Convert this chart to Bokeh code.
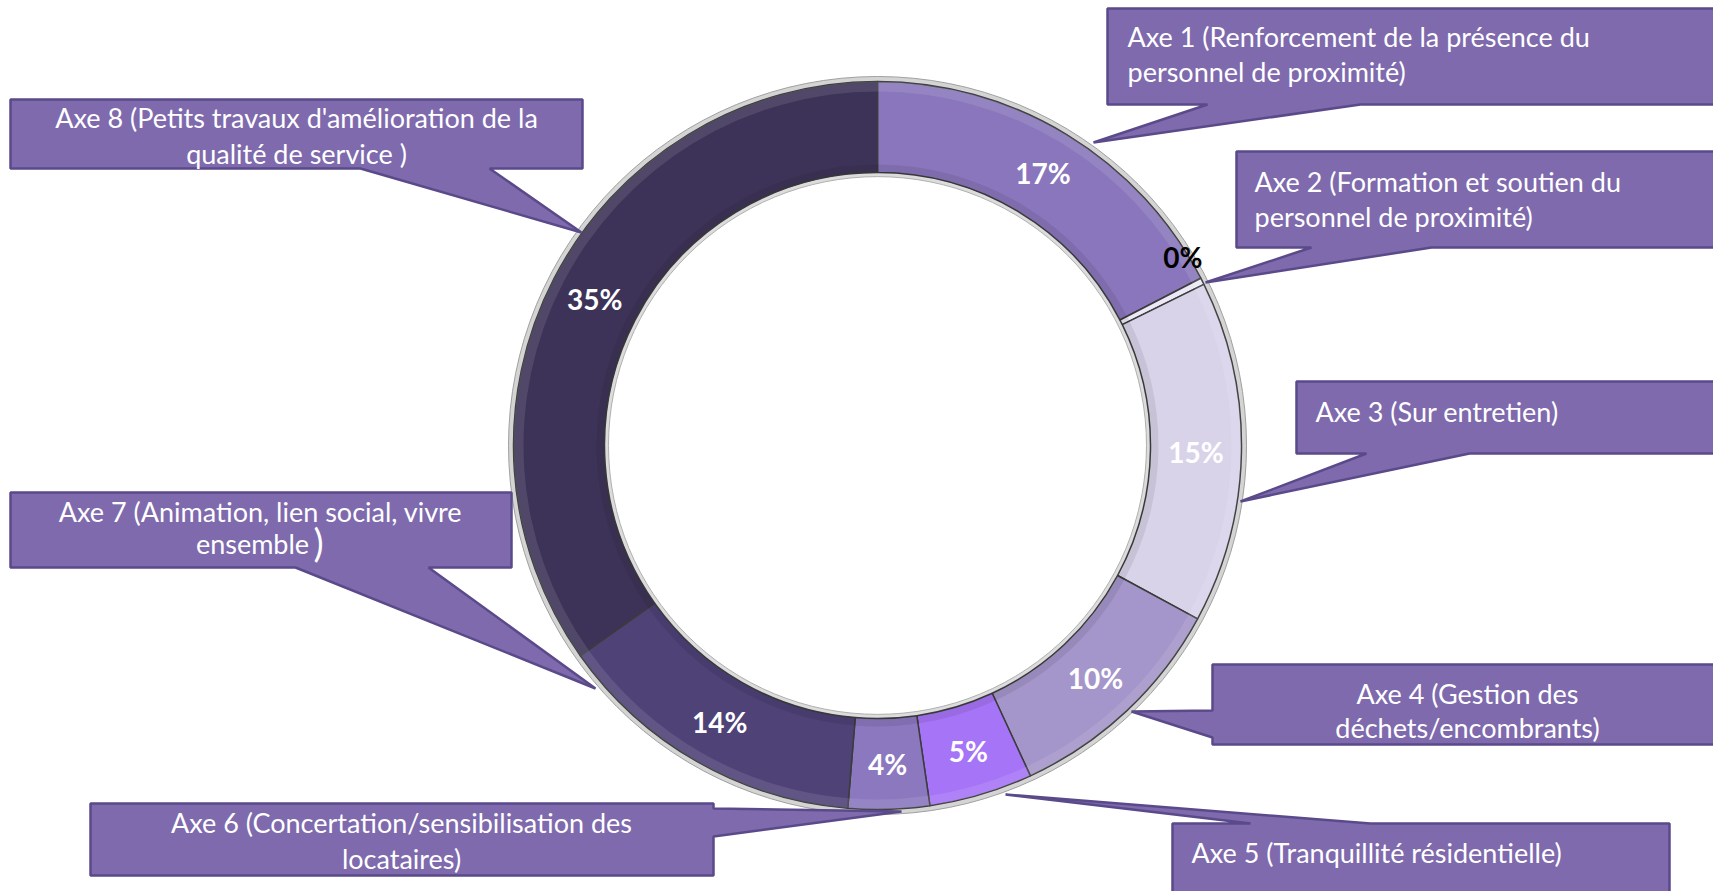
import math
from bokeh.plotting import figure
from bokeh.models import Range1d, ColumnDataSource
from bokeh.core.properties import value
from bokeh.embed import file_html
from bokeh.resources import INLINE

# ---------------- data ----------------
axes_names = ["Axe 1", "Axe 2", "Axe 3", "Axe 4", "Axe 5", "Axe 6", "Axe 7", "Axe 8"]
shares = [17.4, 0.3, 15.2, 10.2, 4.6, 3.6, 13.9, 34.8]
pct_labels = ["17%", "0%", "15%", "10%", "5%", "4%", "14%", "35%"]
slice_colors = ["#8a76bc", "#ece8f6", "#d9d3ea", "#a496ca", "#a674f6", "#8b78bf", "#4e4277", "#3d3358"]
label_colors = ["white", "black", "white", "white", "white", "white", "white", "white"]
callout_lines = [
    ["Axe 1 (Renforcement de la présence du", "personnel de proximité)"],
    ["Axe 2 (Formation et soutien du", "personnel de proximité)"],
    ["Axe 3 (Sur entretien)"],
    ["Axe 4 (Gestion des", "déchets/encombrants)"],
    ["Axe 5 (Tranquillité résidentielle)"],
    ["Axe 6 (Concertation/sensibilisation des", "locataires)"],
    ["Axe 7 (Animation, lien social, vivre", "ensemble"],
    ["Axe 8 (Petits travaux d'amélioration de la", "qualité de service )"],
]

# ---------------- layout (image pixel coords, y down) ----------------
W, H = 1713, 891
IMG_H = 891
CX, CY = 877, 445
R_IN, R_OUT = 273, 364

def fy(y):
    return IMG_H - y

p = figure(width=W, height=H, output_backend="svg", toolbar_location=None,
           x_range=Range1d(0, W), y_range=Range1d(IMG_H - H, IMG_H),
           min_border=0, background_fill_color="white", border_fill_color="white")
p.axis.visible = False
p.grid.visible = False
p.outline_line_color = None

# ring
total = sum(shares)
cum = [0.0]
for v in shares:
    cum.append(cum[-1] + v / total)
starts = [math.pi / 2 - 2 * math.pi * cum[i + 1] for i in range(len(shares))]
ends = [math.pi / 2 - 2 * math.pi * cum[i] for i in range(len(shares))]

# outer/inner rims
p.annulus(x=[CX], y=[fy(CY)], inner_radius=R_OUT - 2, outer_radius=R_OUT + 5,
          fill_color="#d4d4d4", line_color="#a0a0a0", line_width=1)
p.annulus(x=[CX], y=[fy(CY)], inner_radius=R_IN - 4, outer_radius=R_IN + 2,
          fill_color="#dcdcdc", line_color="#b0b0b0", line_width=1)

src = ColumnDataSource(dict(start=starts, end=ends, color=slice_colors))
p.annular_wedge(x=CX, y=fy(CY), inner_radius=R_IN, outer_radius=R_OUT,
                start_angle="start", end_angle="end", fill_color="color",
                line_color="#3c3c3c", line_width=1.5, source=src)

# subtle bevel highlights
p.annular_wedge(x=CX, y=fy(CY), inner_radius=R_OUT - 10, outer_radius=R_OUT,
                start_angle="start", end_angle="end", fill_color="white",
                fill_alpha=0.10, line_color=None, source=src)
p.annular_wedge(x=CX, y=fy(CY), inner_radius=R_IN, outer_radius=R_IN + 8,
                start_angle="start", end_angle="end", fill_color="black",
                fill_alpha=0.08, line_color=None, source=src)

# percentage labels
r_mid = (R_IN + R_OUT) / 2
lx, ly = [], []
for i in range(len(shares)):
    theta = 2 * math.pi * (cum[i] + cum[i + 1]) / 2
    x = CX + r_mid * math.sin(theta)
    y = CY - r_mid * math.cos(theta)
    if shares[i] < 1:  # tiny slice: label pushed outward like the original
        x += 21
        y -= 45
    lx.append(x)
    ly.append(fy(y))
p.text(x=lx, y=ly, text=pct_labels, text_color=label_colors,
       text_font=value("Lato"), text_font_style="bold", text_font_size="28px",
       text_align="center", text_baseline="middle")

# callouts: box (x0, y0, x1, y1), pointer side, base a, base b, tip
FILL = "#7e6aad"
EDGE = "#5a4a8a"
callouts = [
    dict(box=(1107, 8, 1725, 104), side="bottom", base=(1207, 1360), tip=(1093, 142),
         align="left", tx=1127, ty=[36, 71]),
    dict(box=(1236, 151, 1725, 247), side="bottom", base=(1311, 1431), tip=(1205, 282),
         align="left", tx=1254, ty=[181, 216]),
    dict(box=(1296, 381, 1725, 453), side="bottom", base=(1366, 1469), tip=(1240, 501),
         align="left", tx=1315, ty=[411]),
    dict(box=(1212, 664, 1725, 744), side="left", base=(710, 737), tip=(1131, 711),
         align="center", tx=1467, ty=[693, 727]),
    dict(box=(1172, 823, 1669, 900), side="top", base=(1250, 1370), tip=(1005, 794),
         align="left", tx=1191, ty=[852]),
    dict(box=(90, 803, 713, 875), side="right", base=(808, 836), tip=(901, 811),
         align="center", tx=401, ty=[822, 858]),
    dict(box=(10, 492, 511, 567), side="bottom", base=(295, 428), tip=(595, 688),
         align="center", tx=[260, 252], ty=[511, 543]),
    dict(box=(10, 99, 582, 168), side="bottom", base=(360, 489), tip=(581, 232),
         align="center", tx=296, ty=[117, 153]),
]

xs, ys = [], []
for c in callouts:
    x0, y0, x1, y1 = c["box"]
    a, b = c["base"]
    tx_, ty_ = c["tip"]
    if c["side"] == "bottom":
        pts = [(x0, y0), (x1, y0), (x1, y1), (b, y1), (tx_, ty_), (a, y1), (x0, y1)]
    elif c["side"] == "top":
        pts = [(x0, y0), (a, y0), (tx_, ty_), (b, y0), (x1, y0), (x1, y1), (x0, y1)]
    elif c["side"] == "left":
        pts = [(x0, y0), (x1, y0), (x1, y1), (x0, y1), (x0, b), (tx_, ty_), (x0, a)]
    else:  # right
        pts = [(x0, y0), (x1, y0), (x1, a), (tx_, ty_), (x1, b), (x1, y1), (x0, y1)]
    xs.append([q[0] for q in pts])
    ys.append([fy(q[1]) for q in pts])
p.patches(xs, ys, fill_color=FILL, line_color=EDGE, line_width=2.5)

for c, lines in zip(callouts, callout_lines):
    txs = c["tx"] if isinstance(c["tx"], list) else [c["tx"]] * len(lines)
    p.text(x=txs, y=[fy(t) for t in c["ty"]], text=lines,
           text_color="white", text_font=value("Lato"), text_font_size="27px",
           text_align=c["align"], text_baseline="middle")

# oversized closing parenthesis of Axe 7
p.text(x=[318], y=[fy(541)], text=[")"], text_color="white", text_font=value("Lato"),
       text_font_size="38px", text_align="center", text_baseline="middle")

open("out.html", "w").write(file_html(p, INLINE))
